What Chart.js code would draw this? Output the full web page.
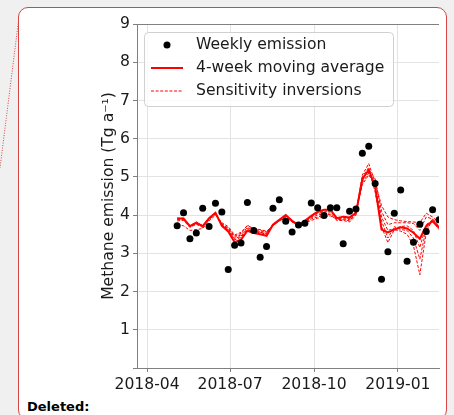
<!DOCTYPE html>
<html><head><meta charset="utf-8">
<script src="https://cdn.jsdelivr.net/npm/chart.js@4.4.0/dist/chart.umd.min.js"></script>
<style>
html,body{margin:0;padding:0;background:#f0f0f0;width:454px;height:415px;overflow:hidden;}
#box{position:absolute;left:18px;top:7px;width:429px;height:413px;border:1px solid #d64545;border-radius:10px;background:#fff;box-sizing:border-box;}
#conn{position:absolute;left:0;top:0;}
#del{position:absolute;left:27px;top:399px;font:bold 13px "DejaVu Sans";color:#000;}
#wrap{position:absolute;left:0;top:0;width:454px;height:415px;}
</style></head><body>
<svg id="conn" width="454" height="415"><line x1="18.5" y1="21" x2="0" y2="168" stroke="#d64545" stroke-width="1" stroke-dasharray="1,1.5"/></svg>
<div id="box"></div>
<div id="del">Deleted:</div>
<div id="wrap"><canvas id="c" width="454" height="415"></canvas></div>
<script>
const weekDates = ['2018-05-04','2018-05-11','2018-05-18','2018-05-25','2018-06-01','2018-06-08','2018-06-15','2018-06-22','2018-06-29','2018-07-06','2018-07-13','2018-07-20','2018-07-27','2018-08-03','2018-08-10','2018-08-17','2018-08-24','2018-08-31','2018-09-07','2018-09-14','2018-09-21','2018-09-28','2018-10-05','2018-10-12','2018-10-19','2018-10-26','2018-11-02','2018-11-09','2018-11-16','2018-11-23','2018-11-30','2018-12-07','2018-12-14','2018-12-21','2018-12-28','2019-01-04','2019-01-11','2019-01-18','2019-01-25','2019-02-01','2019-02-08','2019-02-15'];
const weeklyEmission = [3.72,4.06,3.38,3.53,4.18,3.70,4.31,4.08,2.58,3.21,3.27,4.33,3.60,2.90,3.18,4.18,4.40,3.84,3.56,3.74,3.79,4.32,4.19,3.99,4.19,4.19,3.25,4.10,4.16,5.62,5.80,4.83,2.32,3.04,4.05,4.66,2.79,3.29,3.76,3.57,4.14,3.88];
const movingAverage = [3.91,3.91,3.71,3.80,3.71,3.92,4.06,3.72,3.57,3.29,3.36,3.59,3.53,3.50,3.46,3.75,3.88,4.00,3.85,3.74,3.85,3.98,4.09,4.14,4.14,3.92,3.96,3.94,4.05,4.95,5.18,4.75,3.62,3.55,3.62,3.68,3.65,3.54,3.38,3.72,3.84,3.67];
const sensitivity1 = [3.75,3.72,3.60,3.62,3.65,3.85,4.00,3.80,3.70,3.48,3.55,3.72,3.65,3.62,3.58,3.72,3.85,3.92,3.85,3.76,3.80,3.86,3.92,3.96,3.98,3.90,3.88,3.85,4.05,5.05,5.35,4.85,4.25,3.95,3.88,3.85,3.83,3.82,3.80,4.05,3.95,3.80];
const sensitivity2 = [3.88,3.88,3.70,3.78,3.70,3.90,4.04,3.78,3.65,3.42,3.48,3.68,3.60,3.57,3.55,3.74,3.86,3.96,3.83,3.73,3.82,3.93,4.00,4.04,4.06,3.88,3.90,3.88,4.08,5.00,5.25,4.60,3.70,3.28,3.62,3.58,3.50,3.20,2.44,3.55,3.90,3.70];
const sensitivity3 = [3.90,3.90,3.72,3.80,3.72,3.90,4.05,3.75,3.62,3.38,3.45,3.65,3.58,3.55,3.52,3.75,3.88,3.98,3.84,3.72,3.84,3.95,4.04,4.08,4.10,3.90,3.93,3.90,4.10,4.85,5.10,4.70,3.85,3.40,3.70,3.62,3.60,3.40,2.85,3.65,3.85,3.62];
const sensitivity4 = [3.85,3.86,3.68,3.76,3.68,3.88,4.03,3.76,3.66,3.45,3.52,3.74,3.63,3.60,3.56,3.72,3.85,3.94,3.82,3.70,3.80,3.90,3.95,4.00,4.02,3.86,3.86,3.82,4.00,4.90,5.20,4.95,4.10,3.75,3.80,3.80,3.80,3.78,3.60,3.95,3.90,3.72];
const sensitivity5 = [3.92,3.92,3.72,3.82,3.72,3.93,4.07,3.74,3.60,3.35,3.42,3.62,3.56,3.54,3.50,3.76,3.88,3.99,3.86,3.75,3.86,3.97,4.06,4.10,4.12,3.91,3.94,3.92,4.07,4.80,5.05,4.80,3.95,3.60,3.65,3.70,3.72,3.60,3.15,3.75,3.88,3.65];
const sensitivitySeries = [sensitivity1, sensitivity2, sensitivity3, sensitivity4, sensitivity5];
const tickDates = ['2018-04-01','2018-07-01','2018-10-01','2019-01-01'];
const tickLabels = ['2018-04','2018-07','2018-10','2019-01'];
const xStart = '2018-03-21', xEnd = '2019-02-15';
const yTicks = [0,1,2,3,4,5,6,7,8,9];
const seriesLabels = ['Weekly emission','4-week moving average','Sensitivity inversions'];
const yTitle = 'Methane emission (Tg a\u207B\u00B9)';

const FONT = 'DejaVu Sans';
const FS = 15.6;
const TXT = '#1a1a1a';
const RED = '#ff0000';
const toDay = s => (Date.parse(s) - Date.parse('2018-04-01')) / 86400000;
const pts = arr => arr.map((v, i) => ({x: toDay(weekDates[i]), y: v}));
const DASH = [3, 1.6];

const datasets = [
  {label: seriesLabels[0], data: pts(weeklyEmission), showLine: false, pointRadius: 3.5, pointHoverRadius: 3.5,
   pointBackgroundColor: '#000', pointBorderWidth: 0, borderColor: '#000', order: 0},
  {label: seriesLabels[1], data: pts(movingAverage), borderColor: RED, borderWidth: 2, pointRadius: 0, tension: 0, order: 1},
  ...sensitivitySeries.map((s, k) => ({label: k === 0 ? seriesLabels[2] : '', data: pts(s), borderColor: RED,
    borderWidth: 1, borderDash: DASH, pointRadius: 0, tension: 0, order: 2}))
];

const decor = {
  id: 'decor',
  afterDraw(chart) {
    const ctx = chart.ctx, a = chart.chartArea;
    ctx.save();
    ctx.strokeStyle = '#808080'; ctx.lineWidth = 1;
    ctx.beginPath(); ctx.moveTo(a.left, a.top + 0.5); ctx.lineTo(a.right, a.top + 0.5); ctx.stroke();
    ctx.fillStyle = TXT;
    ctx.font = FS + 'px "' + FONT + '"';
    ctx.save();
    ctx.translate(108.5, (a.top + a.bottom) / 2);
    ctx.rotate(-Math.PI / 2);
    ctx.textAlign = 'center'; ctx.textBaseline = 'middle';
    ctx.fillText(yTitle, 0, 0);
    ctx.restore();
    const lx = 144.5, ly = 32.5, lw = 249, lh = 74, r = 4;
    ctx.beginPath();
    ctx.moveTo(lx + r, ly); ctx.lineTo(lx + lw - r, ly); ctx.arcTo(lx + lw, ly, lx + lw, ly + r, r);
    ctx.lineTo(lx + lw, ly + lh - r); ctx.arcTo(lx + lw, ly + lh, lx + lw - r, ly + lh, r);
    ctx.lineTo(lx + r, ly + lh); ctx.arcTo(lx, ly + lh, lx, ly + lh - r, r);
    ctx.lineTo(lx, ly + r); ctx.arcTo(lx, ly, lx + r, ly, r); ctx.closePath();
    ctx.fillStyle = 'rgba(255,255,255,0.8)'; ctx.fill();
    ctx.strokeStyle = '#d0d0d0'; ctx.lineWidth = 1; ctx.stroke();
    const rows = [45, 68, 91];
    ctx.fillStyle = '#000'; ctx.beginPath(); ctx.arc(167, rows[0], 3.5, 0, Math.PI * 2); ctx.fill();
    ctx.setLineDash([]);
    ctx.strokeStyle = RED; ctx.lineWidth = 2;
    ctx.beginPath(); ctx.moveTo(151, rows[1]); ctx.lineTo(183, rows[1]); ctx.stroke();
    ctx.strokeStyle = RED; ctx.lineWidth = 1; ctx.setLineDash(DASH);
    ctx.beginPath(); ctx.moveTo(151, rows[2]); ctx.lineTo(183, rows[2]); ctx.stroke();
    ctx.setLineDash([]);
    ctx.fillStyle = TXT; ctx.textAlign = 'left'; ctx.textBaseline = 'middle';
    seriesLabels.forEach((t, i) => ctx.fillText(t, 196, rows[i]));
    ctx.restore();
  }
};

new Chart(document.getElementById('c'), {
  type: 'line',
  data: {datasets},
  options: {
    responsive: false, animation: false, devicePixelRatio: 1,
    layout: {padding: {left: 0, top: 24, right: 15, bottom: 0}},
    plugins: {legend: {display: false}, tooltip: {enabled: false}},
    scales: {
      x: {
        type: 'linear', min: toDay(xStart), max: toDay(xEnd),
        afterBuildTicks: s => { s.ticks = tickDates.map(d => ({value: toDay(d)})); },
        afterFit: s => { s.height = 47; },
        ticks: {autoSkip: false, maxRotation: 0, padding: 4, color: TXT, font: {family: FONT, size: FS},
          callback: (v, i) => tickLabels[i]},
        grid: {color: '#e3e3e3', tickColor: '#808080', tickLength: 4, lineWidth: 1},
        border: {color: '#808080', width: 1}
      },
      y: {
        min: 0, max: 9,
        afterBuildTicks: s => { s.ticks = yTicks.map(v => ({value: v})); },
        afterFit: s => { s.width = 137; },
        ticks: {padding: 3, color: TXT, font: {family: FONT, size: FS},
          callback: v => v === 0 ? '' : String(v)},
        grid: {color: '#e3e3e3', tickColor: '#808080', tickLength: 4, lineWidth: 1},
        border: {color: '#808080', width: 1}
      }
    }
  },
  plugins: [decor]
});
</script>
</body></html>
